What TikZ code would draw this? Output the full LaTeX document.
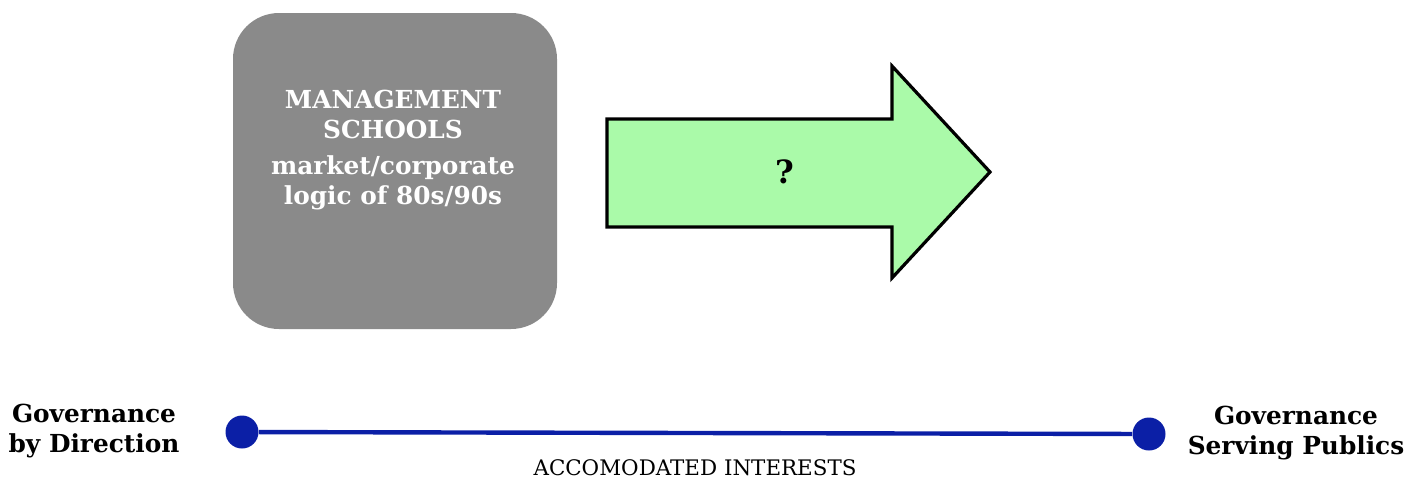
\documentclass[tikz,border=0pt]{standalone}
\usepackage{fontspec}
\setmainfont{DejaVu Serif}
\definecolor{boxgray}{HTML}{8A8A8A}
\definecolor{arrowgreen}{HTML}{AAFAA9}
\definecolor{lineblue}{HTML}{0B1FA6}
\begin{document}
\begin{tikzpicture}[x=0.5pt,y=-0.5pt,
  boxtext/.style={text=white,font=\bfseries\fontsize{12.4}{15}\selectfont,align=center},
  endlabel/.style={font=\bfseries\fontsize{12.4}{15}\selectfont,align=center},
  dot/.style={circle,fill=lineblue,inner sep=0pt,minimum size=16.5pt}]
\useasboundingbox (0,0) rectangle (1419,478);
\node[fill=boxgray,rounded corners=23pt,minimum width=162pt,minimum height=158pt,inner sep=0pt] (box) at (395,171) {};
\node[boxtext] (t1) at (393,114) {MANAGEMENT\\SCHOOLS};
\node[boxtext] (t2) at (393,183) {market/corporate\\logic of 80s/90s};
\draw[line width=1.6pt,fill=arrowgreen,line join=miter]
  (607,119) -- (892,119) -- (892,66) -- (990,172) -- (892,278) -- (892,227) -- (607,227) -- cycle;
\node[font=\bfseries\fontsize{16}{18}\selectfont] (q) at (785,172) {?};
\node[dot] (a) at (242,432) {};
\node[dot] (b) at (1149,434) {};
\draw[lineblue,line width=2.2pt] (a) -- (b);
\node[endlabel] (l) at (94,431) {Governance\\by Direction};
\node[endlabel] (r) at (1296,433) {Governance\\Serving Publics};
\node[font=\fontsize{10.7}{12}\selectfont] (acc) at (695,468) {ACCOMODATED INTERESTS};
\end{tikzpicture}
\end{document}
